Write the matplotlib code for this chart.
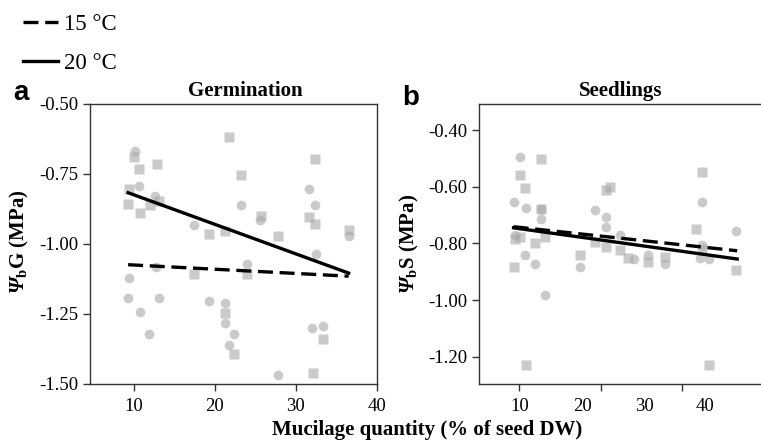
import matplotlib
matplotlib.use("Agg")
import matplotlib.pyplot as plt

plt.rcParams['font.family'] = ['Liberation Serif', 'DejaVu Serif']
plt.rcParams['mathtext.fontset'] = 'custom'
plt.rcParams['mathtext.rm'] = 'Liberation Serif:bold'
plt.rcParams['mathtext.bf'] = 'Liberation Serif:bold:italic'
plt.rcParams['mathtext.it'] = 'Liberation Serif:bold:italic'

# Germination (panel a)
germ_circ_x = [10.1, 10.7, 12.6, 9.4, 9.3, 10.8, 11.9, 12.7, 13.1, 17.4, 19.3, 21.3, 21.3,
               22.3, 21.7, 23.2, 24.0, 25.6, 27.8, 31.6, 32.3, 32.5, 32.0, 33.3, 36.5]
germ_circ_y = [-0.668, -0.792, -0.828, -1.121, -1.192, -1.242, -1.322, -1.082, -1.192, -0.933,
               -1.202, -1.212, -1.281, -1.322, -1.362, -0.862, -1.072, -0.914, -1.468, -0.805,
               -0.862, -1.034, -1.300, -1.293, -0.971]
germ_sq_x = [10.0, 10.7, 12.8, 9.4, 9.3, 10.8, 12.0, 13.1, 21.7, 23.2, 19.3, 21.3, 25.7, 27.8,
             17.4, 24.0, 21.3, 22.3, 32.3, 31.6, 32.4, 33.3, 32.1, 36.5]
germ_sq_y = [-0.689, -0.731, -0.713, -0.802, -0.859, -0.888, -0.861, -0.846, -0.618, -0.752,
             -0.964, -0.952, -0.900, -0.973, -1.106, -1.106, -1.246, -1.393, -0.695, -0.905,
             -0.928, -1.340, -1.459, -0.950]
germ_fit_x = [9.3, 36.5]
germ_fit_15 = [-1.074, -1.115]
germ_fit_20 = [-0.817, -1.104]

# Seedlings (panel b)
seed_circ_x = [10.1, 9.3, 10.8, 9.5, 10.7, 11.9, 12.6, 12.6, 13.1, 17.4, 19.3, 20.6, 20.6,
               22.3, 24.0, 25.8, 27.8, 32.4, 32.4, 32.1, 33.3, 36.5]
seed_circ_y = [-0.494, -0.653, -0.674, -0.771, -0.841, -0.874, -0.715, -0.680, -0.982, -0.882,
               -0.682, -0.708, -0.741, -0.771, -0.855, -0.841, -0.874, -0.653, -0.806, -0.853,
               -0.855, -0.756]
seed_sq_x = [10.1, 10.1, 10.7, 12.6, 12.6, 13.2, 9.5, 9.3, 11.9, 10.8, 17.4, 19.3, 20.6, 21.1,
             20.6, 22.3, 23.3, 25.8, 27.8, 31.6, 32.4, 32.4, 33.3, 36.5]
seed_sq_y = [-0.776, -0.559, -0.604, -0.502, -0.680, -0.776, -0.786, -0.882, -0.800, -1.229,
             -0.841, -0.794, -0.612, -0.600, -0.812, -0.824, -0.853, -0.865, -0.847, -0.749,
             -0.549, -0.818, -1.229, -0.894]
seed_fit_x = [9.3, 36.7]
seed_fit_15 = [-0.741, -0.826]
seed_fit_20 = [-0.745, -0.855]

germ_yticks = [-0.5, -0.75, -1.0, -1.25, -1.5]
seed_yticks = [-0.4, -0.6, -0.8, -1.0, -1.2]
xticks = [10, 20, 30, 40]
seed_xtick_pos = [10, 20, 30]
seed_xlabel_pos = [10, 17.7, 25.3, 32.75]   # labels are shifted in the original
seed_xlabels = ['10', '20', '30', '40']

pt_color = '#a8a8a8'
fig = plt.figure(figsize=(7.61, 4.43), dpi=100)
ax1 = fig.add_axes([0.1183, 0.1332, 0.3771, 0.6321])
ax2 = fig.add_axes([0.6294, 0.1332, 0.3720, 0.6321])

def draw(ax, cx, cy, sx, sy, fx, f15, f20):
    ax.plot(sx, sy, 's', ms=6.8, color=pt_color, alpha=0.6, mec='none')
    ax.plot(cx, cy, 'o', ms=7.0, color=pt_color, alpha=0.6, mec='none')
    l15, = ax.plot(fx, f15, color='black', lw=2.4, dashes=(4.5, 2))
    l20, = ax.plot(fx, f20, color='black', lw=2.4)
    for s in ax.spines.values():
        s.set_linewidth(1.0)
        s.set_color('#333333')
    ax.tick_params(direction='out', length=5, width=1, labelsize=13.5, color='#333333')
    return l15, l20

l15, l20 = draw(ax1, germ_circ_x, germ_circ_y, germ_sq_x, germ_sq_y,
                germ_fit_x, germ_fit_15, germ_fit_20)
draw(ax2, seed_circ_x, seed_circ_y, seed_sq_x, seed_sq_y,
     seed_fit_x, seed_fit_15, seed_fit_20)

ax1.set_xlim(4.6, 40)
ax1.set_ylim(-1.5, -0.5)
ax1.set_xticks(xticks)
ax1.set_yticks(germ_yticks)
ax1.set_yticklabels(['%.2f' % v for v in germ_yticks])
ax1.tick_params(axis='x', pad=5)

ax2.set_xlim(5.06, 39.75)
ax2.set_ylim(-1.296, -0.308)
ax2.xaxis.remove_overlapping_locs = False
ax2.set_xticks(seed_xtick_pos)
ax2.set_xticklabels([])
ax2.set_xticks(seed_xlabel_pos, minor=True)
ax2.set_xticklabels(seed_xlabels, minor=True)
ax2.tick_params(axis='x', which='minor', length=0, labelsize=13.5, pad=10)
ax2.set_yticks(seed_yticks)
ax2.set_yticklabels(['%.2f' % v for v in seed_yticks])

ax1.set_title('Germination', fontsize=15, fontweight='bold', x=0.54, pad=6)
ax2.set_title('Seedlings', fontsize=15, fontweight='bold', pad=6)

ax1.set_ylabel(r'$\mathbf{\Psi}_{\mathregular{b}}$G (MPa)', fontsize=15, fontweight='bold')
ax1.yaxis.set_label_coords(-0.205, 0.51)
ax2.set_ylabel(r'$\mathbf{\Psi}_{\mathregular{b}}$S (MPa)', fontsize=15, fontweight='bold')
ax2.yaxis.set_label_coords(-0.205, 0.5)

fig.text(0.561, 0.03, 'Mucilage quantity (% of seed DW)', fontsize=15,
         fontweight='bold', ha='center', va='center')

fig.text(0.028, 0.79, 'a', family='Liberation Sans', fontsize=20, fontweight='bold',
         ha='center', va='center')
fig.text(0.54, 0.779, 'b', family='Liberation Sans', fontsize=20, fontweight='bold',
         ha='center', va='center')

fig.legend([l15, l20], ['15 °C', '20 °C'], loc='upper left', bbox_to_anchor=(0.012, 1.0),
           frameon=False, fontsize=16.5, handlelength=1.55, handletextpad=0.25,
           labelspacing=0.8, borderaxespad=0.2)

fig.savefig('out.png', dpi=100)
